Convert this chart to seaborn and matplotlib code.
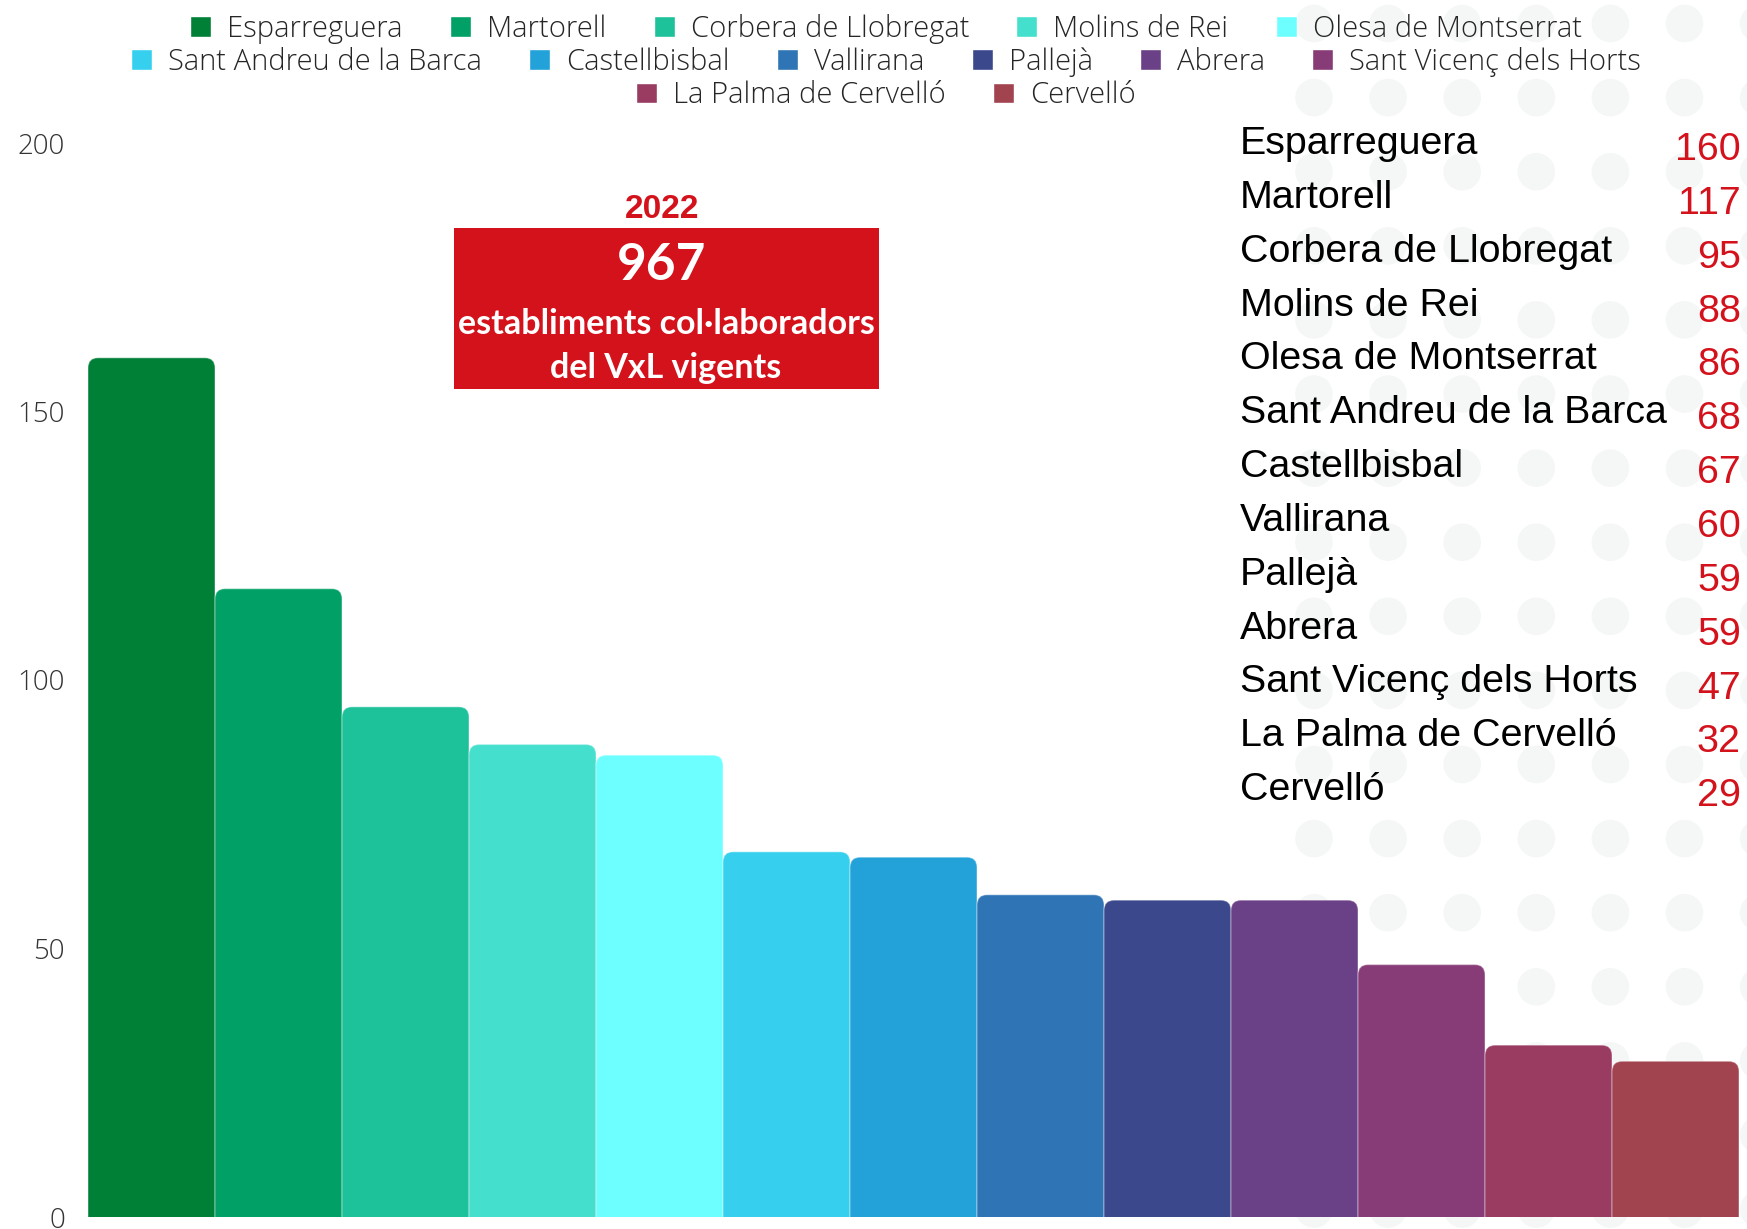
import numpy as np
import pandas as pd
import seaborn as sns
import matplotlib.pyplot as plt
from matplotlib.patches import FancyBboxPatch, Rectangle, Patch, Circle

# Data
municipis = [
    "Esparreguera", "Martorell", "Corbera de Llobregat", "Molins de Rei",
    "Olesa de Montserrat", "Sant Andreu de la Barca", "Castellbisbal",
    "Vallirana", "Pallejà", "Abrera", "Sant Vicenç dels Horts",
    "La Palma de Cervelló", "Cervelló",
]
establiments = [160, 117, 95, 88, 86, 68, 67, 60, 59, 59, 47, 32, 29]
colors = [
    "#007f37", "#00a066", "#1dc19a", "#45dfcd", "#6dffff", "#36d0ee",
    "#22a2d9", "#2f74b5", "#3c488c", "#6a4086", "#873c77", "#9a3b62",
    "#a2444f",
]
y_ticks = [0, 50, 100, 150, 200]
any_dada = "2022"
total = 967
descripcio = "establiments col·laboradors\ndel VxL vigents"

RED = "#d4121c"
W, H = 1747, 1229

sns.set_theme(style="white")
plt.rcParams["font.family"] = ["Open Sans", "DejaVu Sans"]

fig = plt.figure(figsize=(W / 100, H / 100), dpi=100)
fig.patch.set_facecolor("white")

# Background dotted pattern (pixel coordinates)
bg = fig.add_axes([0, 0, 1, 1], zorder=0)
bg.set_xlim(0, W)
bg.set_ylim(H, 0)
bg.axis("off")
for cx in np.arange(1314, W + 40, 74.1):
    for cy in np.arange(23.5, H + 40, 74.1):
        bg.add_patch(Circle((cx, cy), 18.8, color="#f5f7f7", lw=0))

# Main bar chart
left, right, bottom, top = 88, 1739, 1217, 143
ax = fig.add_axes([left / W, 1 - bottom / H, (right - left) / W, (bottom - top) / H], zorder=1)
ax.set_facecolor("none")

df = pd.DataFrame({"municipi": municipis, "establiments": establiments})
sns.barplot(data=df, x="municipi", y="establiments", hue="municipi",
            palette=colors, width=1.0, saturation=1, legend=False, ax=ax)

ax.set_xlim(-0.5, len(municipis) - 0.5)
ax.set_ylim(0, 200)

# Rounded top corners
px_x = (right - left) / len(municipis)
px_y = (bottom - top) / 200
r = 10
for bar in list(ax.patches):
    x, w, h = bar.get_x(), bar.get_width(), bar.get_height()
    fb = FancyBboxPatch((x, -2 * r / px_y), w, h + 2 * r / px_y,
                        boxstyle=f"round,pad=0,rounding_size={r / px_x}",
                        mutation_aspect=px_x / px_y,
                        facecolor=bar.get_facecolor(),
                        edgecolor=(1, 1, 1, 0.3), linewidth=1)
    ax.add_patch(fb)
    bar.remove()

ax.set_yticks(y_ticks)
ax.set_xticks([])
ax.set_xlabel("")
ax.set_ylabel("")
sns.despine(ax=ax, left=True, bottom=True)
ax.tick_params(axis="y", length=0, pad=16.5, labelsize=20, labelcolor="#333333")
for lab in ax.get_yticklabels():
    lab.set_fontweight("light")

# Legend in three centred rows
handles = [Patch(facecolor=c) for c in colors]
rows = [(0, 5, 29), (5, 11, 62), (11, 13, 95.5)]
for a, b, yy in rows:
    fig.legend(handles[a:b], municipis[a:b], loc="center",
               bbox_to_anchor=(886 / W, 1 - yy / H), ncol=b - a,
               frameon=False, handlelength=0.72, handleheight=0.72,
               handletextpad=0.55, columnspacing=1.62, borderpad=0,
               prop={"weight": "light", "size": 21}, labelcolor="#262626")

# Ranking list on the right
for i, (nom, val) in enumerate(zip(municipis, establiments)):
    fig.text(1240 / W, 1 - (154 + 53.85 * i) / H, nom, ha="left", va="baseline",
             fontsize=28.4, family=["Liberation Sans"], color="black", zorder=3)
    fig.text(1741 / W, 1 - (160 + 53.85 * i) / H, str(val), ha="right", va="baseline",
             fontsize=28.4, family=["Liberation Sans"], color=RED, zorder=3)

# Highlight box
fig.patches.append(Rectangle((453.5 / W, 1 - 389 / H), (879 - 453.5) / W, (389 - 228.4) / H,
                             transform=fig.transFigure, facecolor=RED, edgecolor="none", zorder=2))
fig.text(662 / W, 1 - 209 / H, any_dada, ha="center", va="center", fontsize=24,
         fontweight="bold", family=["Liberation Sans"], color=RED, zorder=3)
fig.text(662 / W, 1 - 266 / H, str(total), ha="center", va="center", fontsize=37,
         fontweight="bold", family=["Lato", "DejaVu Sans"], color="white", zorder=3)
fig.text(666 / W, 1 - 346 / H, descripcio, ha="center", va="center", fontsize=24.5,
         fontweight="bold", family=["Lato", "DejaVu Sans"], color="white",
         linespacing=1.5, zorder=3)

fig.savefig("out.png", dpi=100)
